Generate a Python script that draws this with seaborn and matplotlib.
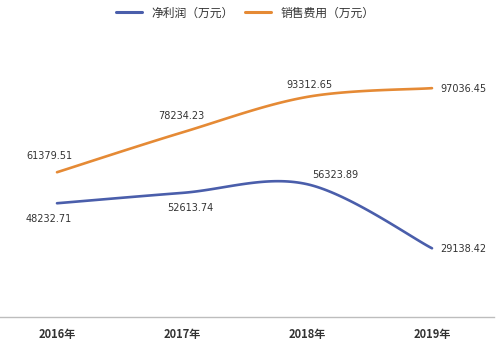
import numpy as np
import pandas as pd
import matplotlib
matplotlib.use("Agg")
import matplotlib.pyplot as plt
import seaborn as sns
from matplotlib.lines import Line2D

years = ["2016年", "2017年", "2018年", "2019年"]
net_profit = [48232.71, 52613.74, 56323.89, 29138.42]
sales_expense = [61379.51, 78234.23, 93312.65, 97036.45]
series_names = ["净利润（万元）", "销售费用（万元）"]
colors = ["#4a5eab", "#e58a35"]

# label offsets (pixels) relative to each point
profit_offsets = [(-8, -16), (8, -15), (28, 9), (31, -1)]
expense_offsets = [(-8, 16), (-1, 16), (2, 12), (31, -1)]


def smooth_curve(xs, ys, n=40):
    """Bezier smoothing through every point (Catmull-Rom style tangents)."""
    pts = np.column_stack([xs, ys]).astype(float)
    m = len(pts)
    tang = np.zeros_like(pts)
    for i in range(m):
        a = pts[max(i - 1, 0)]
        b = pts[min(i + 1, m - 1)]
        tang[i] = (b - a) / 2.0
    out = []
    t = np.linspace(0, 1, n)[:, None]
    for i in range(m - 1):
        p0 = pts[i]
        p3 = pts[i + 1]
        p1 = p0 + tang[i] / 3.0
        p2 = p3 - tang[i + 1] / 3.0
        seg = ((1 - t) ** 3) * p0 + 3 * ((1 - t) ** 2) * t * p1 + 3 * (1 - t) * t ** 2 * p2 + t ** 3 * p3
        out.append(seg if i == 0 else seg[1:])
    c = np.vstack(out)
    return c[:, 0], c[:, 1]


sns.set_theme(style="white")
plt.rcParams["font.family"] = ["Noto Sans CJK SC", "DejaVu Sans"]

fig = plt.figure(figsize=(5.0, 3.45), dpi=100)
ax = fig.add_axes([0.0, 28 / 345, 494 / 500, 283 / 345])

x_idx = np.arange(len(years))
for vals, color in [(net_profit, colors[0]), (sales_expense, colors[1])]:
    sx, sy = smooth_curve(x_idx, vals)
    df = pd.DataFrame({"x": sx, "y": sy})
    sns.lineplot(data=df, x="x", y="y", ax=ax, color=color, linewidth=1.9,
                 sort=False, estimator=None)

for vals, offs in [(net_profit, profit_offsets), (sales_expense, expense_offsets)]:
    for i, (v, (dx, dy)) in enumerate(zip(vals, offs)):
        ax.annotate(f"{v:.2f}", xy=(i, v), xytext=(dx, dy), textcoords="offset pixels",
                    ha="center", va="center", fontsize=7, color="#333333",
                    family=["DejaVu Sans"])

ax.set_xlim(-0.456, 3.496)
ax.set_ylim(0, 120000)
ax.set_xticks(x_idx)
ax.set_xticklabels(years, fontsize=8, fontweight="bold", color="#333333")
ax.tick_params(axis="x", length=0, pad=8)
ax.set_yticks([])
ax.set_xlabel("")
ax.set_ylabel("")
for side in ["top", "left", "right"]:
    ax.spines[side].set_visible(False)
ax.spines["bottom"].set_color("#bdbdbd")
ax.spines["bottom"].set_linewidth(1.0)

handles = [Line2D([], [], color=c, linewidth=2.2) for c in colors]
fig.legend(handles, series_names, loc="center", bbox_to_anchor=(245 / 500, 1 - 13 / 345),
           ncol=2, frameon=False, fontsize=8.5, handlelength=2.2, columnspacing=1.0,
           handletextpad=0.8, labelcolor="#333333")

fig.savefig("out.png", dpi=100)
